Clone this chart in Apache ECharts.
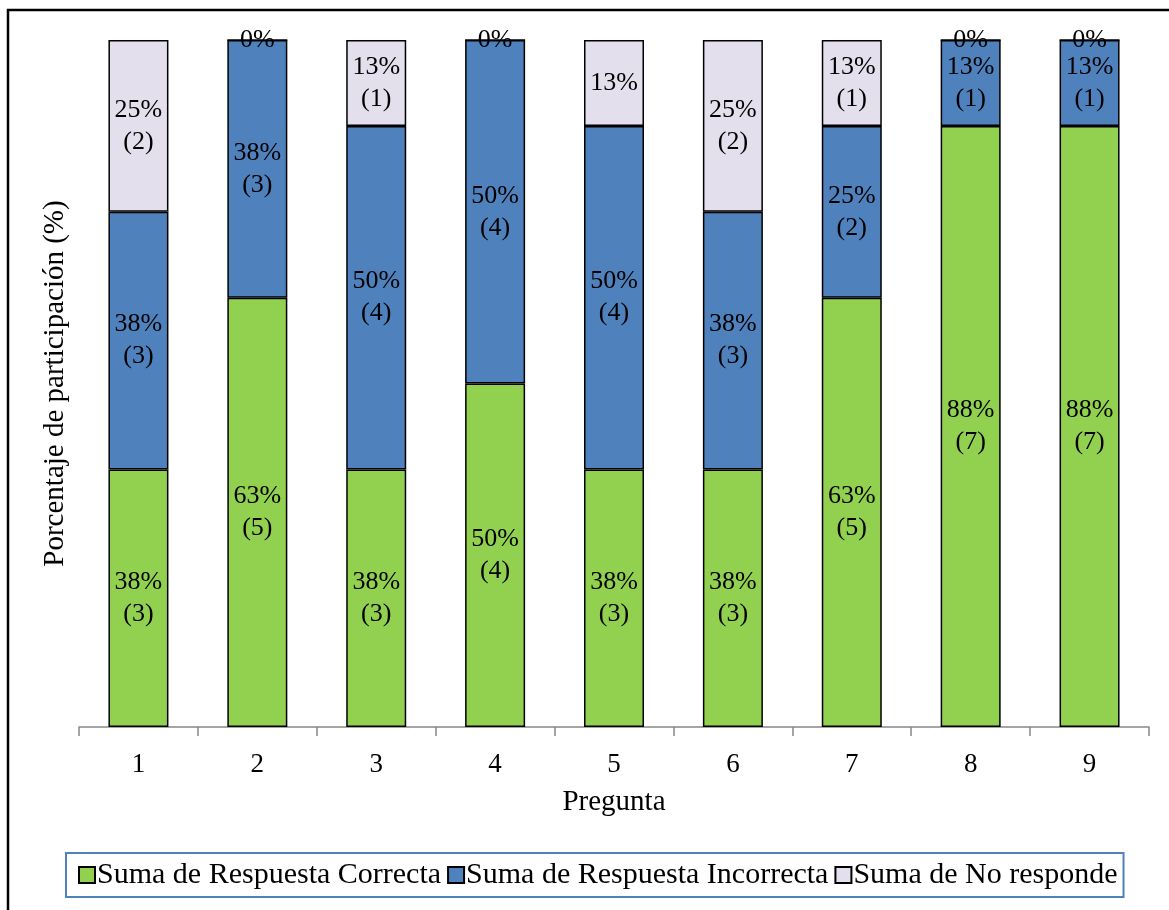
<!DOCTYPE html>
<html>
<head>
<meta charset="utf-8">
<title>Porcentaje de participación</title>
<script src="https://cdn.jsdelivr.net/npm/echarts@6/dist/echarts.min.js"></script>
<style>
    html, body { margin: 0; padding: 0; background: #fff; }
    #chart { width: 1169px; height: 910px; }
</style>
</head>
<body>
<div id="chart"></div>
<script>
// datos (conteos sobre 8 personas)
var preguntas = ['1', '2', '3', '4', '5', '6', '7', '8', '9'];
var correcta = [3, 5, 3, 4, 3, 3, 5, 7, 7];
var incorrecta = [3, 3, 4, 4, 4, 3, 2, 1, 1];
var noResponde = [2, 0, 1, 0, 1, 2, 1, 0, 0];
var totalPersonas = 8;
// celdas donde la etiqueta solo muestra el porcentaje (serie, pregunta)
var sinConteo = [[2, 4]];

var fuente = 'Liberation Serif';

function etiqueta(params){
    var v = params.value;
    var pct = Math.round(v / totalPersonas * 100) + '%';
    if (v === 0) return pct;
    for (var i = 0; i < sinConteo.length; i++) {
        if (sinConteo[i][0] == params.seriesIndex && sinConteo[i][1] == params.dataIndex) return pct;
    }
    return pct + '\n(' + v + ')';
}

function serie(nombre, datos, color){
    return {
        name: nombre,
        type: 'bar',
        stack: 'total',
        barWidth: 60,
        data: datos,
        itemStyle: {
            color: color,
            borderColor: '#000',
            borderWidth: 1.5
        },
        label: {
            show: true,
            position: 'inside',
            formatter: etiqueta,
            color: '#000',
            fontFamily: fuente,
            fontSize: 26,
            lineHeight: 32
        }
    };
}

var myChart = echarts.init(document.getElementById('chart'));

var option = {
    backgroundColor: '#fff',
    animation: false,
    textStyle: { fontFamily: fuente },
    graphic: [
        {
            type: 'rect',
            shape: { x: 8, y: 10, width: 1200, height: 1000 },
            style: { fill: 'none', stroke: '#000', lineWidth: 2.5 },
            silent: true
        }
    ],
    grid: {
        left: 79,
        right: 20,
        top: 40,
        bottom: 183
    },
    legend: {
        left: 66,
        top: 853,
        height: 47,
        padding: [7, 6, 7, 12],
        borderColor: '#4F81BD',
        borderWidth: 2,
        itemWidth: 16,
        itemHeight: 16,
        itemGap: 6,
        icon: 'rect',
        textStyle: {
            color: '#000',
            fontFamily: fuente,
            fontSize: 30,
            padding: [0, 0, 0, -3]
        },
        data: ['Suma de Respuesta Correcta', 'Suma de Respuesta Incorrecta', 'Suma de No responde']
    },
    xAxis: {
        type: 'category',
        data: preguntas,
        name: 'Pregunta',
        nameLocation: 'middle',
        nameGap: 61,
        nameTextStyle: { color: '#000', fontFamily: fuente, fontSize: 29 },
        axisLine: { lineStyle: { color: '#888', width: 1.5 } },
        axisTick: { show: true, length: 9, lineStyle: { color: '#888', width: 1.5 } },
        axisLabel: { color: '#000', fontFamily: fuente, fontSize: 27, margin: 24 }
    },
    yAxis: {
        type: 'value',
        min: 0,
        max: totalPersonas,
        name: 'Porcentaje de participación (%)',
        nameLocation: 'middle',
        nameGap: 9,
        nameTextStyle: { color: '#000', fontFamily: fuente, fontSize: 29 },
        axisLine: { show: false },
        axisTick: { show: false },
        axisLabel: { show: false },
        splitLine: { show: false }
    },
    series: [
        serie('Suma de Respuesta Correcta', correcta, '#92D050'),
        serie('Suma de Respuesta Incorrecta', incorrecta, '#4F81BD'),
        serie('Suma de No responde', noResponde, '#E4DFEC')
    ]
};

myChart.setOption(option);
</script>
</body>
</html>
